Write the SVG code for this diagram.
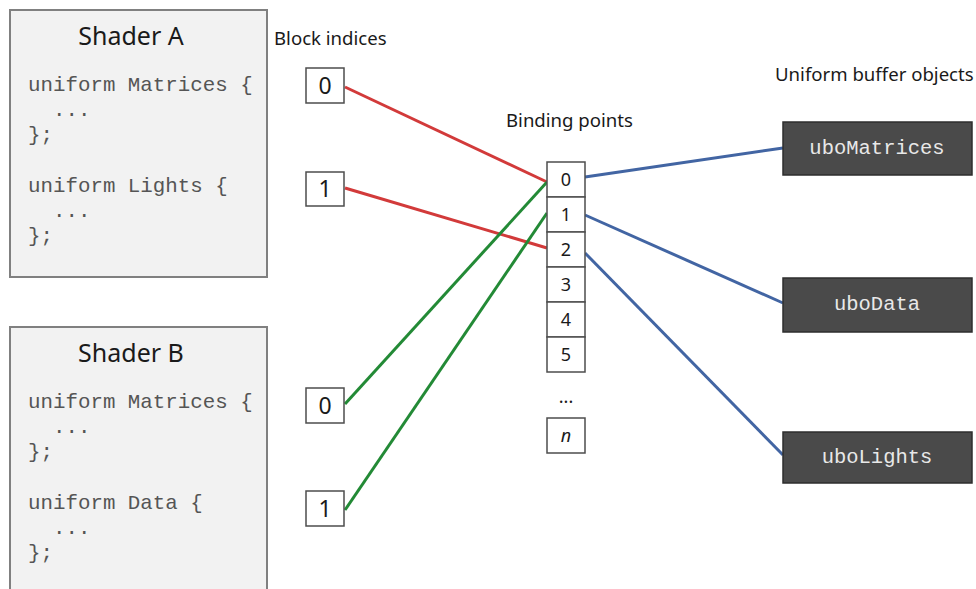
<svg xmlns="http://www.w3.org/2000/svg" width="976" height="589" viewBox="0 0 976 589">
<style>
.shader{fill:#f2f2f2;stroke:#808080;stroke-width:2}
.title{font-family:"Noto Sans","Open Sans",sans-serif;font-size:25px;fill:#1a1a1a;text-anchor:middle}
.code{font-family:"Liberation Mono","Courier New",monospace;font-size:20.8px;fill:#555}
.label{font-family:"Noto Sans","Open Sans",sans-serif;font-size:18.6px;fill:#1a1a1a}
.idx{fill:#fff;stroke:#4d4d4d;stroke-width:1.5}
.idxt{font-family:"Noto Sans","Open Sans",sans-serif;font-size:23px;fill:#1a1a1a;text-anchor:middle}
.bp{fill:#fff;stroke:#4d4d4d;stroke-width:1.5}
.bpt{font-family:"Noto Sans","Open Sans",sans-serif;font-size:18px;fill:#1a1a1a;text-anchor:middle}
.ubo{fill:#4a4a4a;stroke:#2e2e2e;stroke-width:1.5}
.ubot{font-family:"Liberation Mono","Courier New",monospace;font-size:20.5px;fill:#e8e8e8;text-anchor:middle}
.red{stroke:#d23a3a;stroke-width:3;fill:none}
.green{stroke:#238a36;stroke-width:3;fill:none}
.blue{stroke:#4265a3;stroke-width:3;fill:none}
</style>
<g id="shaderA">
<rect class="shader" x="10" y="10" width="257" height="267"/>
<text class="title" x="131" y="45">Shader A</text>
<text class="code" x="28" y="91">uniform Matrices {</text>
<text class="code" x="53" y="116">...</text>
<text class="code" x="28" y="141">};</text>
<text class="code" x="28" y="192">uniform Lights {</text>
<text class="code" x="53" y="217">...</text>
<text class="code" x="28" y="242">};</text>
</g>
<g id="shaderB">
<rect class="shader" x="10" y="327" width="257" height="275"/>
<text class="title" x="131" y="362">Shader B</text>
<text class="code" x="28" y="408">uniform Matrices {</text>
<text class="code" x="53" y="433">...</text>
<text class="code" x="28" y="458">};</text>
<text class="code" x="28" y="509">uniform Data {</text>
<text class="code" x="53" y="534">...</text>
<text class="code" x="28" y="559">};</text>
</g>
<text class="label" x="274" y="45">Block indices</text>
<text class="label" x="506" y="127">Binding points</text>
<text class="label" x="775" y="81">Uniform buffer objects</text>
<g id="connectors">
<line class="red" x1="345" y1="87" x2="547" y2="182"/>
<line class="red" x1="345" y1="188" x2="547" y2="248"/>
<line class="green" x1="345" y1="404" x2="547" y2="182"/>
<line class="green" x1="345" y1="510" x2="547" y2="213"/>
<line class="blue" x1="585" y1="177" x2="783" y2="148"/>
<line class="blue" x1="585" y1="215" x2="783" y2="303"/>
<line class="blue" x1="585" y1="253" x2="783" y2="455"/>
</g>
<g id="blockA0"><rect class="idx" x="306" y="68" width="38" height="35"/><text class="idxt" x="325" y="94">0</text></g>
<g id="blockA1"><rect class="idx" x="306" y="172" width="38" height="34"/><text class="idxt" x="325" y="197">1</text></g>
<g id="blockB0"><rect class="idx" x="306" y="388" width="38" height="35"/><text class="idxt" x="325" y="414">0</text></g>
<g id="blockB1"><rect class="idx" x="306" y="491" width="38" height="35"/><text class="idxt" x="325" y="517">1</text></g>
<g id="bindingPoints">
<rect class="bp" x="547" y="162" width="38" height="35"/><text class="bpt" x="566" y="186">0</text>
<rect class="bp" x="547" y="197" width="38" height="35"/><text class="bpt" x="566" y="221">1</text>
<rect class="bp" x="547" y="232" width="38" height="35"/><text class="bpt" x="566" y="256">2</text>
<rect class="bp" x="547" y="267" width="38" height="35"/><text class="bpt" x="566" y="291">3</text>
<rect class="bp" x="547" y="302" width="38" height="35"/><text class="bpt" x="566" y="326">4</text>
<rect class="bp" x="547" y="337" width="38" height="35"/><text class="bpt" x="566" y="361">5</text>
<text class="bpt" x="566" y="403">...</text>
<rect class="bp" x="547" y="418" width="38" height="35"/><text class="bpt" x="566" y="442" font-style="italic">n</text>
</g>
<g id="uboMatrices"><rect class="ubo" x="783" y="122" width="189" height="53"/><text class="ubot" x="877" y="154">uboMatrices</text></g>
<g id="uboData"><rect class="ubo" x="783" y="278" width="189" height="54"/><text class="ubot" x="877" y="310">uboData</text></g>
<g id="uboLights"><rect class="ubo" x="783" y="432" width="189" height="51"/><text class="ubot" x="877" y="463">uboLights</text></g>
</svg>
